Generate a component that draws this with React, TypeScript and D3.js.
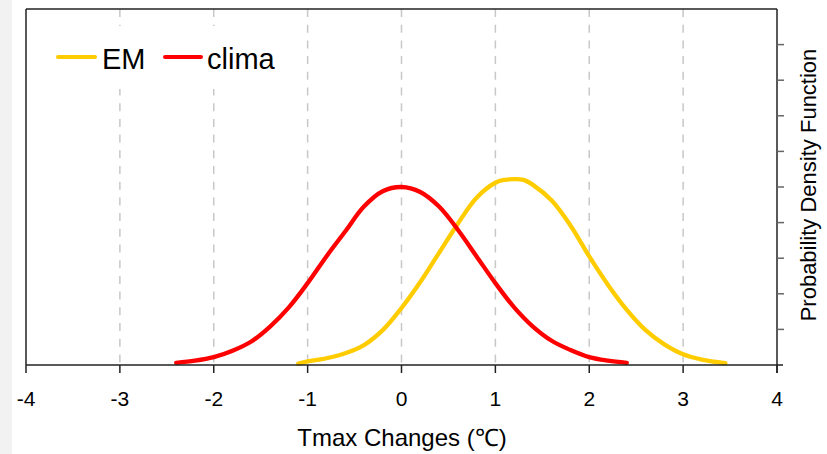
import * as d3 from "d3";

// x ticks / grid
const xTicks = [-4, -3, -2, -1, 0, 1, 2, 3, 4];
const gridTicks = [-3, -2, -1, 0, 1, 2, 3];
const yTicks = [1, 2, 3, 4, 5, 6, 7, 8, 9];

// clima curve (x in degC, y in tick units)
const climaX = [-2.4, -2.2, -2.0, -1.8, -1.6, -1.4, -1.2, -1.0, -0.8, -0.6, -0.4, -0.2, 0.0, 0.2, 0.4, 0.6, 0.8, 1.0, 1.2, 1.4, 1.6, 1.8, 2.0, 2.2, 2.4];
const climaY = [0.06, 0.12, 0.22, 0.4, 0.66, 1.08, 1.62, 2.3, 3.05, 3.75, 4.45, 4.88, 5.0, 4.86, 4.45, 3.8, 3.05, 2.3, 1.62, 1.08, 0.68, 0.42, 0.22, 0.12, 0.06];

// EM curve
const emX = [-1.1, -1.0, -0.8, -0.6, -0.4, -0.2, 0.0, 0.2, 0.4, 0.6, 0.8, 1.0, 1.1, 1.2, 1.3, 1.4, 1.6, 1.8, 2.0, 2.2, 2.4, 2.6, 2.8, 3.0, 3.2, 3.45];
const emY = [0.04, 0.1, 0.19, 0.33, 0.56, 0.98, 1.6, 2.33, 3.15, 3.97, 4.7, 5.12, 5.2, 5.22, 5.2, 5.06, 4.62, 3.92, 3.05, 2.25, 1.55, 0.98, 0.58, 0.3, 0.15, 0.05];

const series = [
  { name: "EM", color: "#ffcc00", xs: emX, ys: emY },
  { name: "clima", color: "#ff0000", xs: climaX, ys: climaY },
];

const W = 827;
const H = 454;
const left = 26;
const right = 777;
const top = 9;
const bottom = 365;
const font = "'Liberation Sans', Arial, sans-serif";

export default function App() {
  const x = d3.scaleLinear().domain([-4, 4]).range([left, right]);
  const y = d3.scaleLinear().domain([0, 10]).range([bottom, top]);
  const line = d3
    .line<[number, number]>()
    .x((d) => x(d[0]))
    .y((d) => y(d[1]))
    .curve(d3.curveCatmullRom);

  return (
    <svg
      width={W}
      height={H}
      style={{ position: "absolute", left: 0, top: 0, background: "#fff" }}
    >
      <rect x={0} y={0} width={12} height={H} fill="#f2f2f2" />

      {gridTicks.map((t) => (
        <line
          key={t}
          x1={x(t)}
          x2={x(t)}
          y1={top}
          y2={bottom}
          stroke="#c8c8c8"
          strokeWidth={1.5}
          strokeDasharray="8,7.7"
        />
      ))}

      {/* legend background masks the grid */}
      <rect x={40} y={26} width={250} height={63} fill="#fff" />

      {series.map((s) => (
        <path
          key={s.name}
          d={line(s.xs.map((v, i) => [v, s.ys[i]]) as [number, number][]) || ""}
          fill="none"
          stroke={s.color}
          strokeWidth={4.3}
          strokeLinecap="round"
          strokeLinejoin="round"
        />
      ))}

      {/* frame */}
      <line x1={left} x2={right} y1={top} y2={top} stroke="#222" strokeWidth={1.5} />
      <line x1={left} x2={left} y1={top} y2={bottom} stroke="#222" strokeWidth={1.5} />
      <line x1={right} x2={right} y1={top} y2={bottom + 8} stroke="#222" strokeWidth={1.5} />
      <line x1={left} x2={right + 6} y1={bottom} y2={bottom} stroke="#222" strokeWidth={1.5} />

      {yTicks.map((t) => (
        <line key={t} x1={right} x2={right + 7} y1={y(t)} y2={y(t)} stroke="#666" strokeWidth={1.5} />
      ))}

      {xTicks.map((t) => (
        <g key={t}>
          <line x1={x(t)} x2={x(t)} y1={bottom} y2={bottom + 8} stroke="#222" strokeWidth={1.5} />
          <text
            x={x(t)}
            y={406}
            textAnchor="middle"
            fontFamily={font}
            fontSize={21}
            fill="#000"
          >
            {t}
          </text>
        </g>
      ))}

      <text x={402} y={446} textAnchor="middle" fontFamily={font} fontSize={24} fill="#000">
        Tmax Changes (℃)
      </text>

      <text
        transform="translate(816,185) rotate(-90)"
        textAnchor="middle"
        fontFamily={font}
        fontSize={22}
        fill="#000"
      >
        Probability Density Function
      </text>

      {/* legend */}
      <line x1={58} x2={95} y1={57} y2={57} stroke="#ffcc00" strokeWidth={4} strokeLinecap="round" />
      <text x={102} y={69} fontFamily={font} fontSize={29} fill="#000">EM</text>
      <line x1={165} x2={201} y1={57} y2={57} stroke="#ff0000" strokeWidth={4} strokeLinecap="round" />
      <text x={207} y={69} fontFamily={font} fontSize={29} fill="#000">clima</text>
    </svg>
  );
}
